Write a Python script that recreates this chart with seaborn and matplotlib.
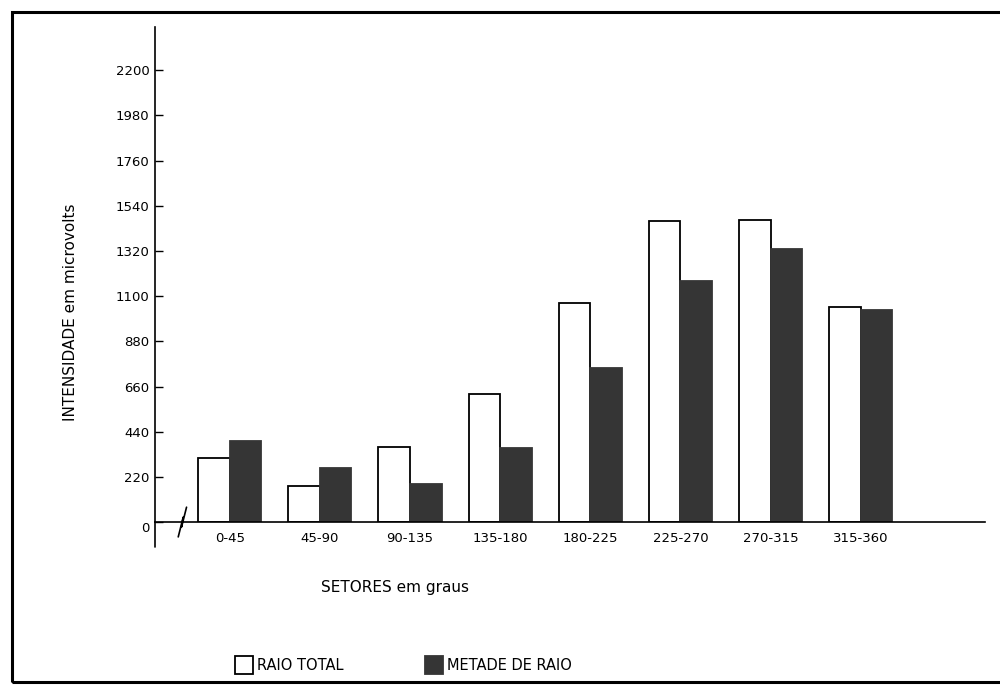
import matplotlib
matplotlib.use("Agg")
import matplotlib.pyplot as plt
import matplotlib.patches as mpatches
import seaborn as sns
import pandas as pd

sectors = ["0-45", "45-90", "90-135", "135-180", "180-225", "225-270", "270-315", "315-360"]
raio_total = [310, 175, 365, 625, 1065, 1465, 1470, 1045]
metade_raio = [395, 262, 185, 360, 750, 1175, 1330, 1035]
series_names = ["RAIO TOTAL", "METADE DE RAIO"]
yticks = [0, 220, 440, 660, 880, 1100, 1320, 1540, 1760, 1980, 2200]

df = pd.DataFrame({
    "sector": sectors * 2,
    "series": [series_names[0]] * len(sectors) + [series_names[1]] * len(sectors),
    "value": raio_total + metade_raio,
})

sns.set_theme(style="white")
plt.rcParams["font.family"] = ["DejaVu Sans"]
plt.rcParams["text.color"] = "black"

fig = plt.figure(figsize=(10, 6.97), dpi=100)
ax = fig.add_axes([0.155, 0.251, 0.83, 0.71])

dark = "#353535"
sns.barplot(data=df, x="sector", y="value", hue="series", order=sectors,
            hue_order=series_names,
            palette={series_names[0]: "white", series_names[1]: dark},
            saturation=1, width=0.7, edgecolor="black", linewidth=1.3,
            legend=False, ax=ax)
for p in ax.patches:
    if p.get_facecolor()[0] < 0.5:
        p.set_edgecolor(dark)

ax.set_xlim(-0.83, 8.38)
ax.set_ylim(0, 2410)
ax.set_yticks(yticks)
ax.set_yticklabels([str(v) for v in yticks], fontsize=9.5, color="black")
ax.tick_params(axis="y", direction="in", length=6, width=1, pad=4, colors="black", left=True)
ax.tick_params(axis="x", length=0, pad=7, labelsize=9.5, labelcolor="black")
ax.get_yticklabels()[0].set_va("top")

for s in ["top", "right"]:
    ax.spines[s].set_visible(False)
ax.spines["left"].set_color("black")
ax.spines["bottom"].set_color("black")
ax.spines["left"].set_linewidth(1.2)
ax.spines["bottom"].set_linewidth(1.2)
# y-axis extends slightly below the x-axis
ax.plot([0, 0], [-0.05, 0], transform=ax.transAxes, color="black", lw=1.2, clip_on=False)
# axis break mark
ax.plot([0.028, 0.034, 0.032, 0.038], [-0.03, 0.01, -0.01, 0.03],
        transform=ax.transAxes, color="black", lw=1.2, clip_on=False)

ax.set_ylabel("INTENSIDADE em microvolts", fontsize=11, color="black")
ax.yaxis.set_label_coords(-0.093, 0.424)
ax.set_xlabel("SETORES em graus", fontsize=11, color="black")
ax.xaxis.set_label_coords(0.289, -0.117)

handles = [mpatches.Patch(facecolor="white", edgecolor="black", linewidth=1.3),
           mpatches.Patch(facecolor=dark, edgecolor=dark, linewidth=1.3)]
fig.legend(handles, series_names, loc="center left", bbox_to_anchor=(0.222, 0.046),
           ncol=2, frameon=False, fontsize=10.5, handlelength=1.2, handleheight=1.6,
           handletextpad=0.3, columnspacing=5.6, labelcolor="black")

fig.patches.append(mpatches.Rectangle((0.012, 0.0215), 1.0, 0.9615, transform=fig.transFigure,
                                      fill=False, edgecolor="black", linewidth=2.2))

fig.savefig("out.png", dpi=100, facecolor="white")
